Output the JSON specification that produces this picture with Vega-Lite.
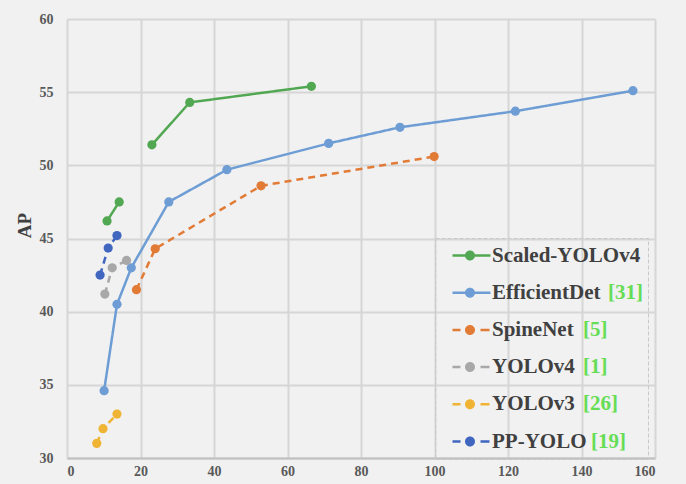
{
  "$schema": "https://vega.github.io/schema/vega-lite/v6.json",
  "width": 588,
  "height": 439,
  "autosize": {"type": "none"},
  "padding": {"left": 67, "top": 19, "right": 31, "bottom": 26},
  "background": "#f1f1f1",
  "data": {
    "values": [
      {"series": "Scaled-YOLOv4", "seg": "a", "ref": " ", "latency": 10.9, "ap": 46.2},
      {"series": "Scaled-YOLOv4", "seg": "a", "ref": " ", "latency": 14.2, "ap": 47.5},
      {"series": "Scaled-YOLOv4", "seg": "b", "ref": " ", "latency": 23.1, "ap": 51.4},
      {"series": "Scaled-YOLOv4", "seg": "b", "ref": " ", "latency": 33.4, "ap": 54.3},
      {"series": "Scaled-YOLOv4", "seg": "b", "ref": " ", "latency": 66.5, "ap": 55.4},
      {"series": "EfficientDet", "seg": "a", "ref": "[31]", "latency": 10.1, "ap": 34.6},
      {"series": "EfficientDet", "seg": "a", "ref": "[31]", "latency": 13.6, "ap": 40.5},
      {"series": "EfficientDet", "seg": "a", "ref": "[31]", "latency": 17.5, "ap": 43.0},
      {"series": "EfficientDet", "seg": "a", "ref": "[31]", "latency": 27.7, "ap": 47.5},
      {"series": "EfficientDet", "seg": "a", "ref": "[31]", "latency": 43.5, "ap": 49.7},
      {"series": "EfficientDet", "seg": "a", "ref": "[31]", "latency": 71.2, "ap": 51.5},
      {"series": "EfficientDet", "seg": "a", "ref": "[31]", "latency": 90.6, "ap": 52.6},
      {"series": "EfficientDet", "seg": "a", "ref": "[31]", "latency": 122.0, "ap": 53.7},
      {"series": "EfficientDet", "seg": "a", "ref": "[31]", "latency": 154.0, "ap": 55.1},
      {"series": "SpineNet", "seg": "a", "ref": "[5]", "latency": 18.9, "ap": 41.5},
      {"series": "SpineNet", "seg": "a", "ref": "[5]", "latency": 24.0, "ap": 44.3},
      {"series": "SpineNet", "seg": "a", "ref": "[5]", "latency": 52.8, "ap": 48.6},
      {"series": "SpineNet", "seg": "a", "ref": "[5]", "latency": 99.9, "ap": 50.6},
      {"series": "YOLOv4", "seg": "a", "ref": "[1]", "latency": 10.3, "ap": 41.2},
      {"series": "YOLOv4", "seg": "a", "ref": "[1]", "latency": 12.3, "ap": 43.0},
      {"series": "YOLOv4", "seg": "a", "ref": "[1]", "latency": 16.2, "ap": 43.5},
      {"series": "YOLOv3", "seg": "a", "ref": "[26]", "latency": 8.1, "ap": 31.0},
      {"series": "YOLOv3", "seg": "a", "ref": "[26]", "latency": 9.8, "ap": 32.0},
      {"series": "YOLOv3", "seg": "a", "ref": "[26]", "latency": 13.6, "ap": 33.0},
      {"series": "PP-YOLO", "seg": "a", "ref": "[19]", "latency": 9.0, "ap": 42.5},
      {"series": "PP-YOLO", "seg": "a", "ref": "[19]", "latency": 11.2, "ap": 44.35},
      {"series": "PP-YOLO", "seg": "a", "ref": "[19]", "latency": 13.6, "ap": 45.2}
    ]
  },
  "encoding": {
    "x": {"field": "latency", "type": "quantitative", "scale": {"domain": [0, 160], "nice": false}, "axis": {"values": [0, 20, 40, 60, 80, 100, 120, 140, 160], "title": null, "domain": true, "domainColor": "#c0c0c0", "domainWidth": 2, "labelPadding": 6, "labelFont": "Liberation Serif", "labelFontSize": 14, "labelFontWeight": "bold", "labelColor": "#595959"}},
    "y": {"field": "ap", "type": "quantitative", "scale": {"domain": [30, 60], "nice": false, "zero": false}, "axis": {"values": [30, 35, 40, 45, 50, 55, 60], "title": "AP", "labelPadding": 14, "labelFont": "Liberation Serif", "labelFontSize": 14, "labelFontWeight": "bold", "labelColor": "#595959", "titlePadding": 5, "titleFont": "Liberation Serif", "titleFontSize": 19, "titleFontWeight": "bold", "titleColor": "#404040", "titleY": 206}}
  },
  "layer": [
    {
      "mark": {"type": "line", "strokeWidth": 2.5},
      "encoding": {
        "detail": {"field": "seg"},
        "color": {"field": "series", "type": "nominal",
          "scale": {"domain": ["Scaled-YOLOv4", "EfficientDet", "SpineNet", "YOLOv4", "YOLOv3", "PP-YOLO"], "range": ["#52a852", "#6d9dd4", "#e27b36", "#a8a8a8", "#efb434", "#4066c0"]},
          "legend": {"title": null, "orient": "none", "legendX": 368, "legendY": 219, "padding": 7.5, "clipHeight": 20, "rowPadding": 16.2,
            "symbolSize": 1600, "symbolStrokeWidth": 0, "labelOffset": 9.5, "strokeColor": "#c9c9c9",
            "encode": {"legend": {"update": {"strokeDash": {"value": [4, 2]}}},
              "symbols": {"update": {"fill": {"scale": "color", "field": "value"}, "strokeWidth": {"value": 0}, "shape": {"signal": "datum.value === 'Scaled-YOLOv4' || datum.value === 'EfficientDet' ? 'M-0.5,-0.0625H1.4V0.0625H-0.5ZM0.625,0A0.25,0.25,0,1,1,0.125,0A0.25,0.25,0,1,1,0.625,0Z' : 'M-0.5,-0.0625H-0.1V0.0625H-0.5ZM0.9,-0.0625H1.35V0.0625H0.9ZM0.625,0A0.25,0.25,0,1,1,0.125,0A0.25,0.25,0,1,1,0.625,0Z'"}}}}}},
        "strokeDash": {"field": "series", "type": "nominal",
          "scale": {"domain": ["Scaled-YOLOv4", "EfficientDet", "SpineNet", "YOLOv4", "YOLOv3", "PP-YOLO"], "range": [[1, 0], [1, 0], [7, 5], [7, 5], [7, 5], [7, 5]]},
          "legend": {"title": null, "orient": "none", "legendX": 368, "legendY": 219, "padding": 7.5, "clipHeight": 20, "rowPadding": 16.2,
            "symbolSize": 1600, "symbolStrokeWidth": 0, "labelOffset": 9.5, "strokeColor": "#c9c9c9",
            "encode": {"legend": {"update": {"strokeDash": {"value": [4, 2]}}},
              "symbols": {"update": {"fill": {"scale": "color", "field": "value"}, "strokeWidth": {"value": 0}, "shape": {"signal": "datum.value === 'Scaled-YOLOv4' || datum.value === 'EfficientDet' ? 'M-0.5,-0.0625H1.4V0.0625H-0.5ZM0.625,0A0.25,0.25,0,1,1,0.125,0A0.25,0.25,0,1,1,0.625,0Z' : 'M-0.5,-0.0625H-0.1V0.0625H-0.5ZM0.9,-0.0625H1.35V0.0625H0.9ZM0.625,0A0.25,0.25,0,1,1,0.125,0A0.25,0.25,0,1,1,0.625,0Z'"}}}}}}
      }
    },
    {
      "mark": {"type": "point", "filled": true, "size": 85, "opacity": 1},
      "encoding": {
        "color": {"field": "series", "type": "nominal",
          "legend": {"title": null, "orient": "none", "legendX": 368, "legendY": 219, "padding": 7.5, "clipHeight": 20, "rowPadding": 16.2,
            "symbolSize": 1600, "symbolStrokeWidth": 0, "labelOffset": 9.5, "strokeColor": "#c9c9c9",
            "encode": {"legend": {"update": {"strokeDash": {"value": [4, 2]}}},
              "symbols": {"update": {"fill": {"scale": "color", "field": "value"}, "strokeWidth": {"value": 0}, "shape": {"signal": "datum.value === 'Scaled-YOLOv4' || datum.value === 'EfficientDet' ? 'M-0.5,-0.0625H1.4V0.0625H-0.5ZM0.625,0A0.25,0.25,0,1,1,0.125,0A0.25,0.25,0,1,1,0.625,0Z' : 'M-0.5,-0.0625H-0.1V0.0625H-0.5ZM0.9,-0.0625H1.35V0.0625H0.9ZM0.625,0A0.25,0.25,0,1,1,0.125,0A0.25,0.25,0,1,1,0.625,0Z'"}}}}}}
      }
    },
    {
      "mark": {"type": "point", "filled": true, "opacity": 0},
      "encoding": {
        "fill": {"field": "ref", "type": "nominal",
          "scale": {"domain": [" ", "[31]", "[5]", "[1]", "[26]", "[19]"], "range": ["#66dd55", "#66dd55", "#66dd55", "#66dd55", "#66dd55", "#66dd55"]},
          "legend": {"title": null, "orient": "none", "legendX": 487.5, "legendY": 219, "padding": 7.5, "clipHeight": 20, "rowPadding": 16.2,
            "symbolSize": 4, "symbolOpacity": 0, "symbolStrokeWidth": 0, "labelOffset": 0, "labelColor": "#66dd55",
            "encode": {"labels": {"update": {"dx": {"signal": "datum.label === '[31]' ? 25 : datum.label === '[19]' ? 8 : 0"}}}}}}
      }
    }
  ],
  "config": {
    "font": "Liberation Serif",
    "view": {"stroke": null},
    "axis": {"labelFont": "Liberation Serif", "labelFontSize": 14, "labelFontWeight": "bold", "labelColor": "#595959", "gridColor": "#d6d6d6", "gridWidth": 2, "ticks": false, "domain": false},
    "legend": {"labelFont": "Liberation Serif", "labelFontSize": 21, "labelFontWeight": "bold", "labelColor": "#404040", "labelLimit": 400}
  }
}
